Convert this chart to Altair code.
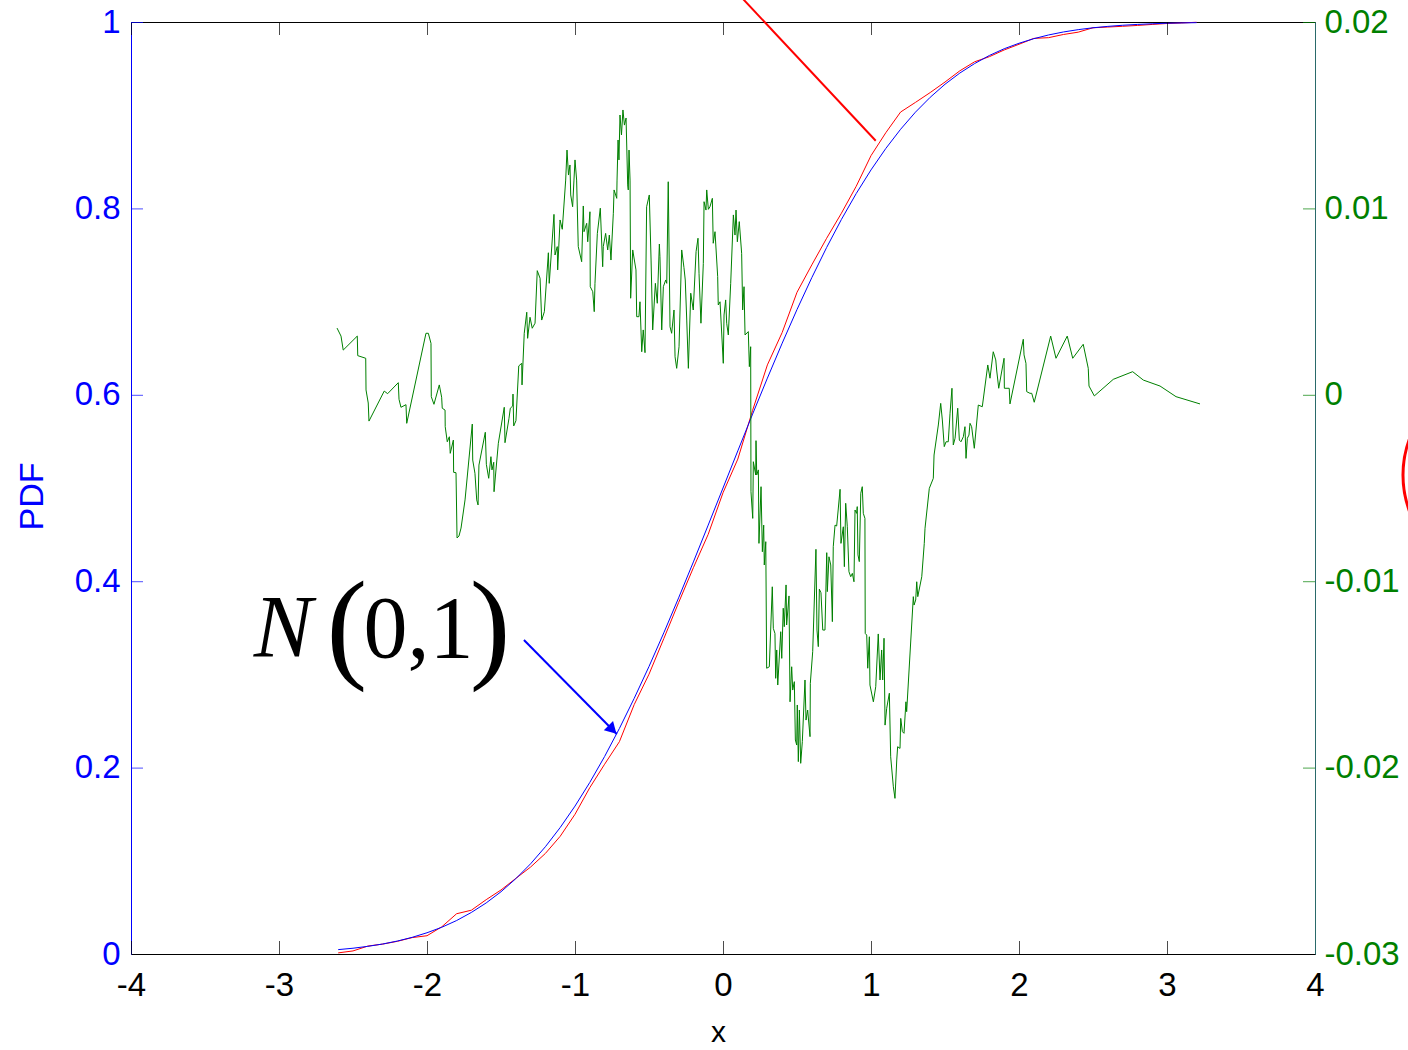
import altair as alt
import pandas as pd

# ---------------- data ----------------
cdf_x = [-2.6, -2.5, -2.4, -2.3, -2.2, -2.1, -2.0, -1.9, -1.8, -1.7,
         -1.6, -1.5, -1.4, -1.3, -1.2, -1.1, -1.0, -0.9, -0.8, -0.7,
         -0.6, -0.5, -0.4, -0.3, -0.2, -0.1, 0.0, 0.1, 0.2, 0.3,
         0.4, 0.5, 0.6, 0.7, 0.8, 0.9, 1.0, 1.1, 1.2, 1.3,
         1.4, 1.5, 1.6, 1.7, 1.8, 1.9, 2.0, 2.1, 2.2, 2.3,
         2.4, 2.5, 2.6, 2.7, 2.8, 2.9, 3.0, 3.1, 3.2]
normal_cdf = [0.0047, 0.0062, 0.0082, 0.0107, 0.0139, 0.0179, 0.0228, 0.0287, 0.0359, 0.0446,
              0.0548, 0.0668, 0.0808, 0.0968, 0.1151, 0.1357, 0.1587, 0.1841, 0.2119, 0.2420,
              0.2743, 0.3085, 0.3446, 0.3821, 0.4207, 0.4602, 0.5000, 0.5398, 0.5793, 0.6179,
              0.6554, 0.6915, 0.7257, 0.7580, 0.7881, 0.8159, 0.8413, 0.8643, 0.8849, 0.9032,
              0.9192, 0.9332, 0.9452, 0.9554, 0.9641, 0.9713, 0.9772, 0.9821, 0.9861, 0.9893,
              0.9918, 0.9938, 0.9953, 0.9965, 0.9974, 0.9981, 0.9987, 0.9990, 0.9993]
empirical_cdf = [0.0012, 0.0033, 0.0085, 0.0106, 0.0136, 0.0176, 0.0196, 0.0292, 0.0432, 0.0470,
                 0.0583, 0.0687, 0.0811, 0.0933, 0.1079, 0.1263, 0.1499, 0.1785, 0.2036, 0.2278,
                 0.2676, 0.3002, 0.3384, 0.3770, 0.4145, 0.4503, 0.4949, 0.5310, 0.5833, 0.6321,
                 0.6669, 0.7100, 0.7394, 0.7679, 0.7948, 0.8237, 0.8566, 0.8812, 0.9034, 0.9137,
                 0.9243, 0.9356, 0.9476, 0.9573, 0.9628, 0.9700, 0.9761, 0.9824, 0.9832, 0.9866,
                 0.9891, 0.9938, 0.9946, 0.9954, 0.9963, 0.9974, 0.9984, 0.9990, 0.9997]

diff_x = [-2.608, -2.581, -2.566, -2.471, -2.468, -2.414, -2.412, -2.397, -2.392, -2.289,
          -2.266, -2.194, -2.189, -2.176, -2.142, -2.137, -2.007, -1.991, -1.973, -1.971,
          -1.953, -1.917, -1.901, -1.897, -1.878, -1.877, -1.863, -1.849, -1.843, -1.822,
          -1.820, -1.804, -1.797, -1.784, -1.770, -1.743, -1.694, -1.691, -1.676, -1.664,
          -1.655, -1.649, -1.606, -1.599, -1.583, -1.568, -1.561, -1.549, -1.547, -1.518,
          -1.478, -1.473, -1.446, -1.437, -1.421, -1.419, -1.414, -1.399, -1.380, -1.360,
          -1.358, -1.343, -1.326, -1.320, -1.304, -1.289, -1.270, -1.255, -1.236, -1.225,
          -1.207, -1.180, -1.174, -1.142, -1.135, -1.120, -1.117, -1.101, -1.086, -1.063,
          -1.054, -1.044, -1.034, -1.029, -1.016, -1.007, -1.000, -0.989, -0.978, -0.955,
          -0.944, -0.939, -0.921, -0.914, -0.899, -0.897, -0.880, -0.870, -0.865, -0.849,
          -0.829, -0.813, -0.809, -0.793, -0.779, -0.768, -0.757, -0.741, -0.736, -0.718,
          -0.716, -0.709, -0.703, -0.696, -0.686, -0.676, -0.666, -0.655, -0.644, -0.640,
          -0.635, -0.628, -0.624, -0.610, -0.588, -0.583, -0.568, -0.561, -0.549, -0.539,
          -0.527, -0.516, -0.498, -0.486, -0.475, -0.457, -0.444, -0.430, -0.426, -0.414,
          -0.403, -0.387, -0.380, -0.370, -0.358, -0.347, -0.331, -0.324, -0.313, -0.297,
          -0.279, -0.264, -0.255, -0.245, -0.234, -0.218, -0.201, -0.182, -0.169, -0.162,
          -0.149, -0.133, -0.128, -0.115, -0.110, -0.099, -0.088, -0.072, -0.066, -0.054,
          -0.036, -0.032, -0.020, 0.002, 0.007, 0.018, 0.025, 0.036, 0.052, 0.070,
          0.081, 0.088, 0.097, 0.110, 0.126, 0.133, 0.142, 0.149, 0.171, 0.178,
          0.187, 0.189, 0.201, 0.205, 0.221, 0.223, 0.228, 0.239, 0.243, 0.257,
          0.266, 0.275, 0.279, 0.289, 0.295, 0.313, 0.333, 0.340, 0.351, 0.356,
          0.363, 0.370, 0.390, 0.397, 0.407, 0.414, 0.426, 0.430, 0.446, 0.453,
          0.464, 0.471, 0.482, 0.489, 0.498, 0.502, 0.509, 0.516, 0.525, 0.536,
          0.554, 0.561, 0.572, 0.588, 0.590, 0.606, 0.628, 0.635, 0.644, 0.651,
          0.662, 0.674, 0.689, 0.701, 0.705, 0.716, 0.728, 0.739, 0.745, 0.757,
          0.768, 0.775, 0.791, 0.797, 0.813, 0.820, 0.829, 0.840, 0.851, 0.863,
          0.874, 0.885, 0.892, 0.903, 0.907, 0.912, 0.921, 0.931, 0.941, 0.948,
          0.959, 0.961, 0.971, 0.978, 0.989, 0.993, 1.016, 1.032, 1.049, 1.061,
          1.072, 1.079, 1.088, 1.095, 1.106, 1.124, 1.133, 1.151, 1.162, 1.174,
          1.180, 1.196, 1.201, 1.212, 1.223, 1.236, 1.241, 1.286, 1.291, 1.302,
          1.309, 1.316, 1.343, 1.360, 1.365, 1.394, 1.421, 1.426, 1.455, 1.471,
          1.482, 1.495, 1.507, 1.522, 1.534, 1.547, 1.556, 1.568, 1.586, 1.597,
          1.608, 1.624, 1.635, 1.642, 1.651, 1.662, 1.669, 1.680, 1.698, 1.725,
          1.752, 1.789, 1.804, 1.826, 1.843, 1.849, 1.863, 1.899, 1.901, 1.934,
          1.939, 2.029, 2.034, 2.047, 2.052, 2.074, 2.086, 2.103, 2.214, 2.250,
          2.326, 2.363, 2.434, 2.468, 2.473, 2.509, 2.637, 2.768, 2.840, 2.953,
          3.061, 3.223]
diff_y = [0.00358, 0.00315, 0.00240, 0.00315, 0.00210, 0.00196, 0.00026, -0.00044, -0.00141, 0.00020,
          0.00006, 0.00065, -0.00024, -0.00067, -0.00053, -0.00153, 0.00330, 0.00330, 0.00276, -0.00010,
          -0.00051, 0.00053, -0.00013, -0.00072, -0.00082, -0.00171, -0.00252, -0.00225, -0.00314, -0.00243,
          -0.00416, -0.00418, -0.00768, -0.00758, -0.00715, -0.00564, -0.00157, -0.00350, -0.00421, -0.00564,
          -0.00591, -0.00377, -0.00201, -0.00373, -0.00448, -0.00332, -0.00403, -0.00362, -0.00520, -0.00260,
          -0.00067, -0.00257, -0.00126, -0.00072, -0.00060, 0.00004, -0.00167, -0.00139, 0.00155, 0.00169,
          0.00053, 0.00330, 0.00443, 0.00303, 0.00416, 0.00357, 0.00384, 0.00666, 0.00625, 0.00401,
          0.00446, 0.00762, 0.00598, 0.00968, 0.00750, 0.00795, 0.00670, 0.00938, 0.00888, 0.01152,
          0.01313, 0.01179, 0.01233, 0.01072, 0.01009, 0.01152, 0.01260, 0.01152, 0.00795, 0.00714,
          0.01013, 0.00875, 0.00920, 0.00821, 0.00982, 0.00580, 0.00553, 0.00446, 0.00598, 0.00866,
          0.01001, 0.00687, 0.00795, 0.00866, 0.00777, 0.00857, 0.00723, 0.00974, 0.01099, 0.01054,
          0.01152, 0.01367, 0.01260, 0.01501, 0.01394, 0.01528, 0.01447, 0.01485, 0.01126, 0.01099,
          0.01313, 0.01152, 0.00518, 0.00777, 0.00670, 0.00419, 0.00419, 0.00499, 0.00231, 0.00348,
          0.00226, 0.01009, 0.01072, 0.00723, 0.00348, 0.00598, 0.00491, 0.00809, 0.00741, 0.00348,
          0.00580, 0.00616, 0.00598, 0.01143, 0.00365, 0.00330, 0.00455, 0.00204, 0.00142, 0.00258,
          0.00777, 0.00684, 0.00616, 0.00401, 0.00142, 0.00545, 0.00455, 0.00768, 0.00840, 0.00652,
          0.00384, 0.00705, 0.01036, 0.00991, 0.01099, 0.00995, 0.01009, 0.01054, 0.00813, 0.00875,
          0.00634, 0.00482, 0.00499, 0.00169, 0.00428, 0.00509, 0.00384, 0.00321, 0.00598, 0.00965,
          0.00857, 0.00991, 0.00821, 0.00929, 0.00759, 0.00455, 0.00580, 0.00321, 0.00339, 0.00151,
          0.00258, -0.00520, -0.00663, -0.00359, -0.00430, -0.00246, -0.00430, -0.00403, -0.00797, -0.00493,
          -0.00842, -0.00699, -0.00913, -0.00788, -0.01467, -0.01459, -0.01030, -0.01253, -0.01280, -0.01521,
          -0.01369, -0.01557, -0.01271, -0.01414, -0.01145, -0.01244, -0.01020, -0.01235, -0.01079, -0.01647,
          -0.01459, -0.01584, -0.01539, -0.01852, -0.01879, -0.01664, -0.01968, -0.01691, -0.01977, -0.01861,
          -0.01530, -0.01745, -0.01691, -0.01834, -0.01548, -0.01378, -0.00829, -0.01262, -0.01351, -0.01043,
          -0.01062, -0.01262, -0.01262, -0.00847, -0.01056, -0.00869, -0.00913, -0.01217, -0.00815, -0.00699,
          -0.00704, -0.00645, -0.00507, -0.00797, -0.00708, -0.00922, -0.00582, -0.00708, -0.00949, -0.00976,
          -0.00958, -0.01003, -0.00618, -0.00636, -0.00600, -0.00859, -0.00895, -0.00528, -0.00493, -0.00636,
          -0.00663, -0.01280, -0.01289, -0.01467, -0.01298, -0.01557, -0.01647, -0.01566, -0.01283, -0.01530,
          -0.01369, -0.01530, -0.01306, -0.01772, -0.01682, -0.01601, -0.01942, -0.02103, -0.02165, -0.01959,
          -0.01888, -0.01897, -0.01736, -0.01807, -0.01816, -0.01647, -0.01700, -0.01083, -0.01128, -0.01101,
          -0.01003, -0.01083, -0.00976, -0.00797, -0.00716, -0.00502, -0.00448, -0.00323, -0.00162, -0.00046,
          -0.00135, -0.00278, -0.00252, -0.00252, -0.00099, 0.00035, -0.00269, -0.00233, -0.00072, -0.00243,
          -0.00252, -0.00225, -0.00171, -0.00341, -0.00233, -0.00216, -0.00153, -0.00171, -0.00287, -0.00055,
          -0.00064, 0.00160, 0.00089, 0.00231, 0.00187, 0.00133, 0.00035, 0.00196, 0.00035, 0.00035,
          -0.00049, 0.00298, 0.00214, 0.00169, 0.00017, 0.00008, 0.00008, -0.00040, 0.00315, 0.00196,
          0.00315, 0.00196, 0.00271, 0.00142, 0.00047, -0.00006, 0.00083, 0.00124, 0.00079, 0.00047,
          -0.00010, -0.00049]

x_ticks = [-4, -3, -2, -1, 0, 1, 2, 3, 4]
left_ticks = [0, 0.2, 0.4, 0.6, 0.8, 1]
right_range = [-0.03, 0.02]  # right axis spans the same height as the left [0, 1]

# annotation anchors (data units of the left axis)
label_N = {"x": [-2.973], "y": [0.3197], "t": ["N"]}
label_paren = {"x": [-2.541, -1.574], "y": [0.3085, 0.3085], "t": ["(", ")"]}
label_args = {"x": [-2.057], "y": [0.3187], "t": ["0,1"]}
blue_arrow = {"x": [-1.345, -0.718], "y": [0.3369, 0.2361]}
blue_head = {"x": [-0.747], "y": [0.2407]}
red_pointer = {"x": [0.104, 1.032], "y": [1.030, 0.8726]}
red_ring = {"x": [5.304], "y": [0.5139]}

# ---------------- tables ----------------
cdf = pd.DataFrame({"x": cdf_x, "normal": normal_cdf, "empirical": empirical_cdf})
diff = pd.DataFrame({"x": diff_x, "d": diff_y})
diff["i"] = range(len(diff))

lo, hi = right_range
sx = alt.Scale(domain=[-4, 4], nice=False, zero=False)
sy = alt.Scale(domain=[0, 1], nice=False, zero=False)

FONT = "Liberation Sans"
MINUS = "\u2212"
X_LABEL = f"replace(datum.label, '{MINUS}', '-')"
R_LABEL = (f"replace(format(round((datum.value * {hi - lo} + ({lo})) * 100) / 100, '~g'), "
           f"'{MINUS}', '-')")

X = lambda f: alt.X(f, scale=sx, axis=None)
Y = lambda f: alt.Y(f, scale=sy, axis=None)

red_line = alt.Chart(cdf).mark_line(color="red", strokeWidth=1).encode(
    x=X("x:Q"), y=Y("empirical:Q"))

blue_line = alt.Chart(cdf).mark_line(color="blue", strokeWidth=1).encode(
    x=alt.X("x:Q", scale=sx, axis=alt.Axis(
        orient="bottom", values=x_ticks, labelExpr=X_LABEL, labelFont=FONT,
        labelFontSize=33, labelColor="black", labelPadding=15, labelFlush=False,
        ticks=False, domainColor="black", domainWidth=1, grid=False,
        title="x", titleFont=FONT, titleFontSize=30, titleFontWeight="normal",
        titleColor="black", titlePadding=15, titleX=587)),
    y=alt.Y("normal:Q", scale=sy, axis=alt.Axis(
        orient="left", values=left_ticks, format="~g", labelFont=FONT, labelFontSize=33,
        labelColor="blue", labelPadding=11, ticks=False, domainColor="blue",
        domainWidth=1, grid=False,
        title="PDF", titleFont=FONT, titleFontSize=34, titleFontWeight="normal",
        titleColor="blue", titleX=-99, titleY=474, titleBaseline="middle",
        titleAlign="center", titleAngle=270)),
)

green_line = alt.Chart(diff).transform_calculate(
    yr=f"(datum.d - ({lo})) / {hi - lo}"
).mark_line(color="green", strokeWidth=1).encode(
    x=X("x:Q"),
    y=alt.Y("yr:Q", scale=sy, axis=alt.Axis(
        orient="right", values=left_ticks, labelExpr=R_LABEL,
        labelFont=FONT, labelFontSize=33, labelColor="green", labelPadding=9,
        ticks=False, domainColor="#2a6a6a", domainWidth=1, grid=False, title=None)),
    order="i:Q",
)

xt = pd.DataFrame({"t": x_ticks})
lt = pd.DataFrame({"t": left_ticks})

ticks_bottom = alt.Chart(xt).mark_tick(orient="vertical", size=26, thickness=1,
                                       clip=True, color="black", xOffset=0.5).encode(
    x=X("t:Q"), y=alt.YDatum(0, scale=sy, axis=None))
ticks_top = alt.Chart(xt).mark_tick(orient="vertical", size=26, thickness=1,
                                    clip=True, color="black", xOffset=0.5).encode(
    x=X("t:Q"), y=alt.YDatum(1, scale=sy, axis=None))
ticks_left = alt.Chart(lt).mark_tick(orient="horizontal", size=24, thickness=1,
                                     clip=True, color="blue", yOffset=0.5).encode(
    x=alt.XDatum(-4, scale=sx, axis=None), y=Y("t:Q"))
ticks_right = alt.Chart(lt).mark_tick(orient="horizontal", size=24, thickness=1,
                                      clip=True, color="green", yOffset=0.5).encode(
    x=alt.XDatum(4, scale=sx, axis=None), y=Y("t:Q"))

txt_N = alt.Chart(pd.DataFrame(label_N)).mark_text(
    font="Liberation Serif", fontSize=88, fontStyle="italic", align="center",
    baseline="alphabetic", color="black").encode(x=X("x:Q"), y=Y("y:Q"), text="t:N")
txt_paren = alt.Chart(pd.DataFrame(label_paren)).mark_text(
    font="Liberation Serif", fontSize=122, align="center",
    baseline="alphabetic", color="black").encode(x=X("x:Q"), y=Y("y:Q"), text="t:N")
txt_args = alt.Chart(pd.DataFrame(label_args)).mark_text(
    font="Liberation Serif", fontSize=88, align="center",
    baseline="alphabetic", color="black").encode(x=X("x:Q"), y=Y("y:Q"), text="t:N")

arrow_line = alt.Chart(pd.DataFrame(blue_arrow)).mark_line(
    color="blue", strokeWidth=2).encode(x=X("x:Q"), y=Y("y:Q"))
arrow_head = alt.Chart(pd.DataFrame(blue_head)).mark_point(
    shape="triangle-up", angle=135, size=170, filled=True, color="blue",
    opacity=1).encode(x=X("x:Q"), y=Y("y:Q"))
pointer = alt.Chart(pd.DataFrame(red_pointer)).mark_line(
    color="red", strokeWidth=2).encode(x=X("x:Q"), y=Y("y:Q"))
ring = alt.Chart(pd.DataFrame(red_ring)).mark_point(
    shape="circle", size=44100, filled=False, color="red", strokeWidth=3,
    opacity=1).encode(x=X("x:Q"), y=Y("y:Q"))

chart = alt.layer(
    red_line, blue_line, green_line,
    ticks_bottom, ticks_top, ticks_left, ticks_right,
    txt_N, txt_paren, txt_args, arrow_line, arrow_head, pointer, ring,
).resolve_axis(x="independent", y="independent").properties(
    width=1184, height=932,
    autosize=alt.AutoSizeParams(type="none"),
    padding={"left": 131, "top": 22, "right": 93, "bottom": 96},
    background="white",
).configure_view(stroke="black", strokeWidth=1)

chart.save("out.html", embed_options={"renderer": "svg", "actions": False})
